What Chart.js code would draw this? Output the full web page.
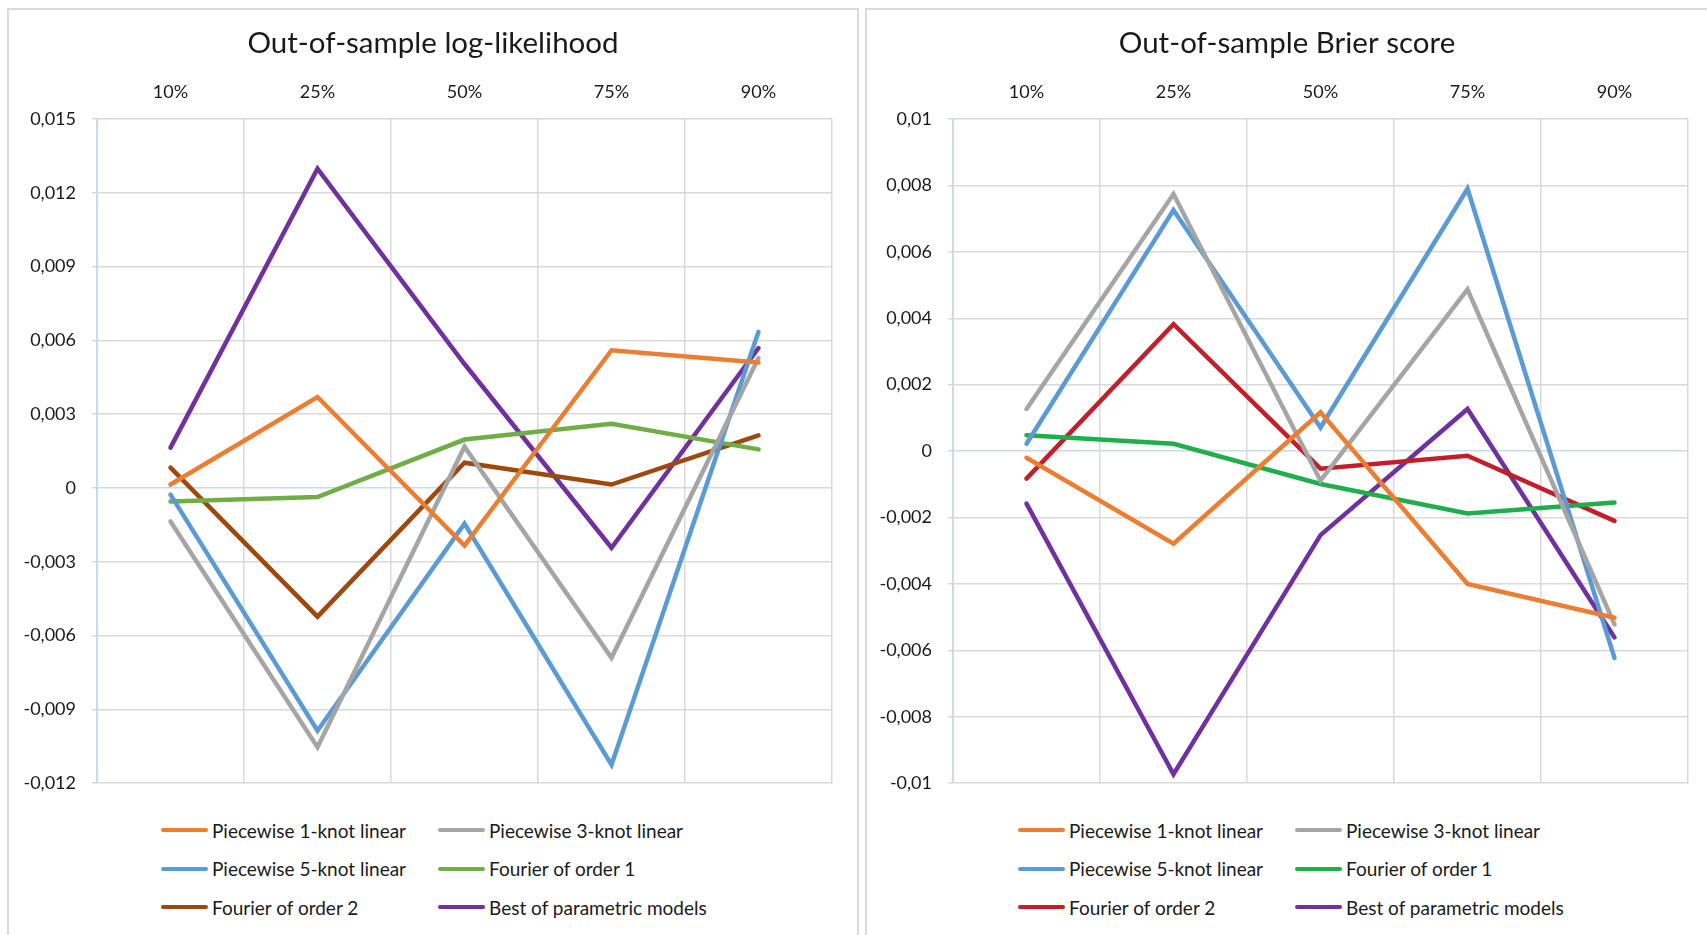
<!DOCTYPE html>
<html>
<head>
<meta charset="utf-8">
<script src="https://cdn.jsdelivr.net/npm/chart.js@4.4.0/dist/chart.umd.min.js"></script>
<style>
body {
    margin: 0;
    width: 1707px;
    height: 935px;
    overflow: hidden;
    background: #fff;
    font-family: Lato, sans-serif;
}
.panel {
    position: absolute;
    top: 8px;
    height: 960px;
    border: 2px solid #d9d9d9;
    background: #fff;
}
#panel-ll { left: 7px; width: 848px; }
#panel-brier { left: 865px; width: 880px; }
.chart-box {
    position: absolute;
    left: 0;
    top: 0;
    height: 800px;
}
#panel-ll .chart-box { width: 848px; }
#panel-brier .chart-box { width: 840px; }
.legend {
    position: absolute;
    top: 801px;
    display: grid;
    grid-template-columns: 277px 277px;
    grid-auto-rows: 38.5px;
    font-size: 19px;
    color: #1a1a1a;
}
#panel-ll .legend { left: 152px; }
#panel-brier .legend { left: 151px; }
.legend-item {
    display: flex;
    align-items: center;
    white-space: nowrap;
}
.legend-line {
    display: inline-block;
    width: 47px;
    height: 4px;
    border-radius: 2px;
    margin-right: 4px;
}
</style>
</head>
<body>

<div class="panel" id="panel-ll">
    <div class="chart-box"><canvas id="grafico-ll"></canvas></div>
    <div class="legend" id="legend-ll"></div>
</div>
<div class="panel" id="panel-brier">
    <div class="chart-box"><canvas id="grafico-brier"></canvas></div>
    <div class="legend" id="legend-brier"></div>
</div>

<script>
// categorias e nomes das séries
const categories = ['10%', '25%', '50%', '75%', '90%'];
const seriesNames = [
    'Piecewise 1-knot linear', 'Piecewise 3-knot linear',
    'Piecewise 5-knot linear', 'Fourier of order 1',
    'Fourier of order 2', 'Best of parametric models'
];

// log-likelihood (fora da amostra)
const llPiecewise1 = [0.00014, 0.0037, -0.00234, 0.0056, 0.0051];
const llPiecewise3 = [-0.00136, -0.01054, 0.00168, -0.0069, 0.00528];
const llPiecewise5 = [-0.00027, -0.00987, -0.00145, -0.01125, 0.00635];
const llFourier1 = [-0.00055, -0.00037, 0.00197, 0.00261, 0.00157];
const llFourier2 = [0.00083, -0.00523, 0.00103, 0.00014, 0.00214];
const llBest = [0.00164, 0.01298, 0.00504, -0.00243, 0.00569];

// Brier score (fora da amostra)
const brPiecewise1 = [-0.0002, -0.00279, 0.00117, -0.004, -0.00502];
const brPiecewise3 = [0.00127, 0.00774, -0.00089, 0.00487, -0.00522];
const brPiecewise5 = [0.00022, 0.00726, 0.00071, 0.0079, -0.00623];
const brFourier1 = [0.00048, 0.00022, -0.00099, -0.00188, -0.00155];
const brFourier2 = [-0.00083, 0.00382, -0.00053, -0.00014, -0.0021];
const brBest = [-0.00158, -0.00973, -0.00253, 0.00127, -0.00561];

// eixos
const llTicks = { min: -0.012, max: 0.015, step: 0.003 };
const brTicks = { min: -0.01, max: 0.01, step: 0.002 };

Chart.defaults.font.family = 'Lato, sans-serif';
Chart.defaults.color = '#1a1a1a';

function formatTick(v) {
    return Number(v.toFixed(4)).toString().replace('.', ',');
}

function makeChart(canvasId, legendId, title, values, colors, ticks, leftWidth, rightWidth) {
    const datasets = values.map(function(data, i) {
        return {
            label: seriesNames[i],
            data: data,
            borderColor: colors[i],
            backgroundColor: colors[i],
            borderWidth: 4.5,
            borderCapStyle: 'round',
            pointRadius: 0,
            pointHoverRadius: 0,
            tension: 0,
            fill: false
        };
    });

    const chart = new Chart(document.getElementById(canvasId).getContext('2d'), {
        type: 'line',
        data: { labels: categories, datasets: datasets },
        options: {
            responsive: true,
            maintainAspectRatio: false,
            animation: false,
            layout: { padding: { top: 0, left: 0, right: 0, bottom: 23 } },
            plugins: {
                legend: { display: false },
                tooltip: { enabled: false },
                title: {
                    display: true,
                    text: title,
                    font: { size: 29.5, weight: 'normal' },
                    padding: { top: 16, bottom: 8 }
                }
            },
            scales: {
                x: {
                    position: 'top',
                    offset: true,
                    afterFit: function(s) { s.height = 49.6; },
                    grid: {
                        offset: true,
                        drawTicks: false,
                        color: '#d9d9d9',
                        lineWidth: 1.5
                    },
                    border: { display: false },
                    ticks: { font: { size: 18 }, padding: 16 }
                },
                y: {
                    min: ticks.min,
                    max: ticks.max,
                    afterFit: function(s) { s.width = leftWidth; },
                    grid: {
                        color: function(ctx) {
                            return ctx.tick && Math.abs(ctx.tick.value) < 1e-9 ? '#c6dcf0' : '#d9d9d9';
                        },
                        lineWidth: 1.5,
                        tickLength: 5
                    },
                    border: { color: '#c6dcf0', width: 2 },
                    ticks: {
                        stepSize: ticks.step,
                        font: { size: 18 },
                        padding: 16,
                        callback: formatTick
                    }
                },
                y2: {
                    position: 'right',
                    afterFit: function(s) { s.width = rightWidth; },
                    grid: { display: false },
                    border: { display: false },
                    ticks: { display: false }
                }
            }
        }
    });

    // legenda em duas colunas
    const legend = document.getElementById(legendId);
    chart.data.datasets.forEach(function(ds) {
        const item = document.createElement('div');
        item.className = 'legend-item';
        const line = document.createElement('span');
        line.className = 'legend-line';
        line.style.background = ds.borderColor;
        item.appendChild(line);
        item.appendChild(document.createTextNode(ds.label));
        legend.appendChild(item);
    });
    return chart;
}

makeChart('grafico-ll', 'legend-ll', 'Out-of-sample log-likelihood',
    [llPiecewise1, llPiecewise3, llPiecewise5, llFourier1, llFourier2, llBest],
    ['#ed7d31', '#a5a5a5', '#5b9bd5', '#70ad47', '#9e480e', '#7030a0'],
    llTicks, 88, 25);

makeChart('grafico-brier', 'legend-brier', 'Out-of-sample Brier score',
    [brPiecewise1, brPiecewise3, brPiecewise5, brFourier1, brFourier2, brBest],
    ['#ed7d31', '#a5a5a5', '#5b9bd5', '#1fae4b', '#c21f2b', '#7030a0'],
    brTicks, 86, 19);
</script>
</body>
</html>
